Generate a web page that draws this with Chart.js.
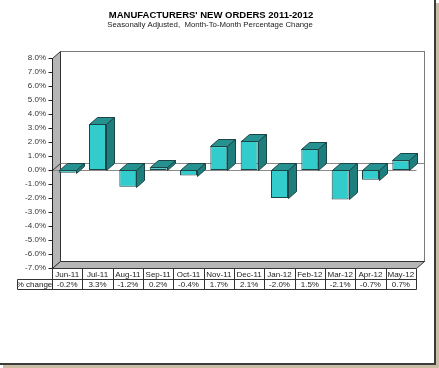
<!DOCTYPE html>
<html>
<head>
<meta charset="utf-8">
<script src="https://cdn.jsdelivr.net/npm/chart.js@4.4.0/dist/chart.umd.min.js"></script>
<style>
  html, body { margin: 0; padding: 0; background: #fff; }
  canvas { display: block; }
</style>
</head>
<body>
<canvas id="ordersChart" width="439" height="368"></canvas>
<script>
const titleText = "MANUFACTURERS' NEW ORDERS 2011-2012";
const subtitleText = 'Seasonally Adjusted,  Month-To-Month Percentage Change';
const months = ['Jun-11', 'Jul-11', 'Aug-11', 'Sep-11', 'Oct-11', 'Nov-11',
                'Dec-11', 'Jan-12', 'Feb-12', 'Mar-12', 'Apr-12', 'May-12'];
const pctChange = [-0.2, 3.3, -1.2, 0.2, -0.4, 1.7, 2.1, -2.0, 1.5, -2.1, -0.7, 0.7];
const rowLabel = '% change';
const yMin = -7;
const yMax = 8;
const yStep = 1;

const DX = 8;   // depth offset right
const DY = 7;   // depth offset up
const FONT = "'Liberation Sans', Arial, sans-serif";

function stipple(c1, c2) {
    const p = document.createElement('canvas');
    p.width = 2; p.height = 2;
    const g = p.getContext('2d');
    g.fillStyle = c1; g.fillRect(0, 0, 2, 2);
    g.fillStyle = c2; g.fillRect(0, 0, 1, 1); g.fillRect(1, 1, 1, 1);
    return g.createPattern(p, 'repeat');
}

function poly(ctx, pts, fill, stroke) {
    ctx.beginPath();
    ctx.moveTo(pts[0][0], pts[0][1]);
    for (let i = 1; i < pts.length; i++) ctx.lineTo(pts[i][0], pts[i][1]);
    ctx.closePath();
    if (fill) { ctx.fillStyle = fill; ctx.fill(); }
    if (stroke) { ctx.strokeStyle = stroke; ctx.lineWidth = 1; ctx.stroke(); }
}

function tickValues() {
    const vals = [];
    for (let v = yMin; v <= yMax + 1e-9; v += yStep) vals.push(v);
    return vals;
}

const frame3d = {
    id: 'frame3d',
    beforeDatasetsDraw(chart) {
        const { ctx, chartArea: a, scales: { y } } = chart;
        const grayPat = stipple('#c8c8c8', '#a4a4a4');
        ctx.save();
        ctx.translate(0.5, 0.5);
        // back wall
        ctx.fillStyle = '#ffffff';
        ctx.fillRect(a.left + DX, a.top - DY, a.right - a.left, a.bottom - a.top);
        ctx.strokeStyle = '#7a7a7a';
        ctx.lineWidth = 1;
        ctx.strokeRect(a.left + DX, a.top - DY, a.right - a.left, a.bottom - a.top);
        // side wall
        poly(ctx, [[a.left, a.top], [a.left + DX, a.top - DY], [a.left + DX, a.bottom - DY], [a.left, a.bottom]], grayPat, '#333');
        // floor
        poly(ctx, [[a.left, a.bottom], [a.left + DX, a.bottom - DY], [a.right + DX, a.bottom - DY], [a.right, a.bottom]], grayPat, '#333');
        // zero plane lines
        const y0 = Math.round(y.getPixelForValue(0));
        ctx.strokeStyle = '#8a8a8a';
        ctx.beginPath();
        ctx.moveTo(a.left + DX, y0 - DY); ctx.lineTo(a.right + DX, y0 - DY);
        ctx.moveTo(a.left, y0); ctx.lineTo(a.right, y0);
        ctx.stroke();
        ctx.strokeStyle = '#333';
        ctx.beginPath();
        ctx.moveTo(a.left, y0); ctx.lineTo(a.left + DX, y0 - DY);
        ctx.stroke();
        // y axis line and ticks
        ctx.strokeStyle = '#222';
        ctx.beginPath();
        ctx.moveTo(a.left, a.top); ctx.lineTo(a.left, a.bottom);
        tickValues().forEach(v => {
            const py = Math.round(y.getPixelForValue(v));
            ctx.moveTo(a.left - 4, py); ctx.lineTo(a.left, py);
        });
        ctx.stroke();
        ctx.restore();
    },
    afterDatasetsDraw(chart) {
        const { ctx } = chart;
        const topPat = stipple('#2ca5a5', '#1e7d7d');
        const sidePat = stipple('#249090', '#196a6a');
        ctx.save();
        ctx.translate(0.5, 0.5);
        chart.getDatasetMeta(0).data.forEach(bar => {
            const l = Math.round(bar.x - bar.width / 2);
            const r = Math.round(bar.x + bar.width / 2);
            const top = Math.round(Math.min(bar.y, bar.base));
            const bot = Math.round(Math.max(bar.y, bar.base));
            poly(ctx, [[l, top], [l + DX, top - DY], [r + DX, top - DY], [r, top]], topPat, '#1d4545');
            poly(ctx, [[r, top], [r + DX, top - DY], [r + DX, bot - DY], [r, bot]], sidePat, '#1d4545');
        });
        ctx.restore();
    },
    afterDraw(chart) {
        const { ctx, chartArea: a, scales: { x, y } } = chart;
        ctx.save();
        // titles
        ctx.fillStyle = '#000';
        ctx.textAlign = 'center';
        ctx.textBaseline = 'middle';
        ctx.font = 'bold 9.5px ' + FONT;
        ctx.fillText(titleText, 211, 15);
        ctx.fillStyle = '#222';
        ctx.font = '7.8px ' + FONT;
        ctx.fillText(subtitleText, 210, 25);
        // y tick labels
        ctx.font = '8px ' + FONT;
        ctx.textAlign = 'right';
        ctx.fillStyle = '#333';
        tickValues().forEach(v => {
            ctx.fillText(v.toFixed(1) + '%', a.left - 6, y.getPixelForValue(v));
        });
        // data table
        const half = (x.getPixelForValue(1) - x.getPixelForValue(0)) / 2;
        const r1 = a.bottom, r2 = a.bottom + 11, r3 = a.bottom + 21;
        const labelLeft = 17;
        ctx.translate(0.5, 0.5);
        ctx.strokeStyle = '#333';
        ctx.lineWidth = 1;
        ctx.beginPath();
        ctx.moveTo(labelLeft, r2); ctx.lineTo(a.right, r2);
        ctx.moveTo(labelLeft, r3); ctx.lineTo(a.right, r3);
        ctx.moveTo(labelLeft, r2); ctx.lineTo(labelLeft, r3);
        months.forEach((m, i) => {
            const bx = Math.round(x.getPixelForValue(i) + half);
            ctx.moveTo(bx, r1); ctx.lineTo(bx, r3);
        });
        ctx.moveTo(a.left, r1); ctx.lineTo(a.left, r3);
        ctx.stroke();
        ctx.translate(-0.5, -0.5);
        ctx.textAlign = 'center';
        ctx.fillStyle = '#222';
        months.forEach((m, i) => {
            const cx = x.getPixelForValue(i);
            ctx.fillText(m, cx, (r1 + r2) / 2 + 1);
            ctx.fillText(pctChange[i].toFixed(1) + '%', cx, (r2 + r3) / 2 + 1);
        });
        ctx.fillText(rowLabel, (labelLeft + a.left) / 2, (r2 + r3) / 2 + 1);
        // picture frame
        ctx.fillStyle = '#c9bda6';
        ctx.fillRect(436, 3, 3, 365);
        ctx.fillRect(3, 365, 436, 3);
        ctx.fillStyle = '#3c3c3c';
        ctx.fillRect(434, 0, 2, 365);
        ctx.fillRect(0, 363, 436, 2);
        ctx.restore();
    }
};

new Chart(document.getElementById('ordersChart'), {
    type: 'bar',
    data: {
        labels: months,
        datasets: [{
            label: rowLabel,
            data: pctChange,
            backgroundColor: '#33cccc',
            borderColor: '#1d4545',
            borderWidth: 1,
            borderSkipped: false,
            categoryPercentage: 1.0,
            barPercentage: 0.56
        }]
    },
    options: {
        responsive: false,
        animation: false,
        layout: {
            padding: { left: 52, right: 23, top: 58, bottom: 100 }
        },
        plugins: {
            legend: { display: false },
            title: { display: false },
            tooltip: { enabled: false }
        },
        scales: {
            x: { display: false },
            y: {
                display: false,
                min: yMin,
                max: yMax,
                ticks: { stepSize: yStep }
            }
        }
    },
    plugins: [frame3d]
});
</script>
</body>
</html>
